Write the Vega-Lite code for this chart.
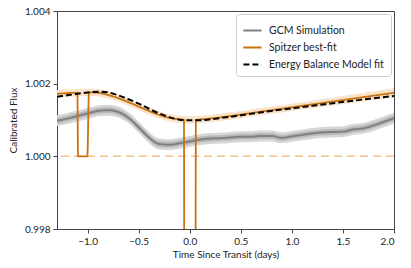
{
  "$schema": "https://vega.github.io/schema/vega-lite/v6.json",
  "width": 337,
  "height": 218,
  "autosize": {"type": "none"},
  "padding": {"left": 57, "top": 11, "right": 17, "bottom": 39},
  "background": "white",
  "config": {
    "font": "Lato",
    "view": {"stroke": "#444", "strokeWidth": 1},
    "axis": {"grid": false, "domainColor": "#444", "tickColor": "#444", "labelColor": "#222", "titleColor": "#222", "labelFontSize": 10, "titleFontSize": 10, "titleFontWeight": "normal", "tickSize": 4, "labelFont": "Lato", "titleFont": "Lato"},
    "legend": {"labelFont": "Lato"}
  },
  "datasets": {
    "gcm": [
      {"x": -1.3, "v": 1.00098, "a1": 1.0009, "b1": 1.00106, "a2": 1.00083, "b2": 1.00113},
      {"x": -1.2, "v": 1.00104, "a1": 1.00096, "b1": 1.00112, "a2": 1.00089, "b2": 1.00119},
      {"x": -1.1, "v": 1.00111, "a1": 1.00103, "b1": 1.00119, "a2": 1.00096, "b2": 1.00126},
      {"x": -1.0, "v": 1.00118, "a1": 1.0011, "b1": 1.00126, "a2": 1.00103, "b2": 1.00133},
      {"x": -0.9, "v": 1.00125, "a1": 1.00117, "b1": 1.00133, "a2": 1.0011, "b2": 1.0014},
      {"x": -0.8, "v": 1.00127, "a1": 1.00119, "b1": 1.00135, "a2": 1.00112, "b2": 1.00142},
      {"x": -0.7, "v": 1.00122, "a1": 1.00114, "b1": 1.0013, "a2": 1.00107, "b2": 1.00137},
      {"x": -0.6, "v": 1.00106, "a1": 1.00098, "b1": 1.00114, "a2": 1.00091, "b2": 1.00121},
      {"x": -0.5, "v": 1.0008, "a1": 1.00072, "b1": 1.00088, "a2": 1.00065, "b2": 1.00095},
      {"x": -0.4, "v": 1.00052, "a1": 1.00044, "b1": 1.0006, "a2": 1.00037, "b2": 1.00067},
      {"x": -0.3, "v": 1.00034, "a1": 1.00026, "b1": 1.00042, "a2": 1.00019, "b2": 1.00049},
      {"x": -0.2, "v": 1.00032, "a1": 1.00024, "b1": 1.0004, "a2": 1.00017, "b2": 1.00047},
      {"x": -0.1, "v": 1.00036, "a1": 1.00028, "b1": 1.00044, "a2": 1.00021, "b2": 1.00051},
      {"x": 0.0, "v": 1.00041, "a1": 1.00033, "b1": 1.00049, "a2": 1.00026, "b2": 1.00056},
      {"x": 0.1, "v": 1.00046, "a1": 1.00038, "b1": 1.00054, "a2": 1.00031, "b2": 1.00061},
      {"x": 0.2, "v": 1.00049, "a1": 1.00041, "b1": 1.00057, "a2": 1.00034, "b2": 1.00064},
      {"x": 0.3, "v": 1.0005, "a1": 1.00042, "b1": 1.00058, "a2": 1.00035, "b2": 1.00065},
      {"x": 0.4, "v": 1.00052, "a1": 1.00044, "b1": 1.0006, "a2": 1.00037, "b2": 1.00067},
      {"x": 0.5, "v": 1.00054, "a1": 1.00046, "b1": 1.00062, "a2": 1.00039, "b2": 1.00069},
      {"x": 0.6, "v": 1.00054, "a1": 1.00046, "b1": 1.00062, "a2": 1.00039, "b2": 1.00069},
      {"x": 0.7, "v": 1.00056, "a1": 1.00048, "b1": 1.00064, "a2": 1.00041, "b2": 1.00071},
      {"x": 0.8, "v": 1.00056, "a1": 1.00048, "b1": 1.00064, "a2": 1.00041, "b2": 1.00071},
      {"x": 0.9, "v": 1.00051, "a1": 1.00043, "b1": 1.00059, "a2": 1.00036, "b2": 1.00066},
      {"x": 1.0, "v": 1.00055, "a1": 1.00047, "b1": 1.00063, "a2": 1.0004, "b2": 1.0007},
      {"x": 1.1, "v": 1.00059, "a1": 1.00051, "b1": 1.00067, "a2": 1.00044, "b2": 1.00074},
      {"x": 1.2, "v": 1.00063, "a1": 1.00055, "b1": 1.00071, "a2": 1.00048, "b2": 1.00078},
      {"x": 1.3, "v": 1.00066, "a1": 1.00058, "b1": 1.00074, "a2": 1.00051, "b2": 1.00081},
      {"x": 1.4, "v": 1.00067, "a1": 1.00059, "b1": 1.00075, "a2": 1.00052, "b2": 1.00082},
      {"x": 1.5, "v": 1.00068, "a1": 1.0006, "b1": 1.00076, "a2": 1.00053, "b2": 1.00083},
      {"x": 1.6, "v": 1.00074, "a1": 1.00066, "b1": 1.00082, "a2": 1.00059, "b2": 1.00089},
      {"x": 1.7, "v": 1.00077, "a1": 1.00069, "b1": 1.00085, "a2": 1.00062, "b2": 1.00092},
      {"x": 1.8, "v": 1.00085, "a1": 1.00077, "b1": 1.00093, "a2": 1.0007, "b2": 1.001},
      {"x": 1.9, "v": 1.00095, "a1": 1.00087, "b1": 1.00103, "a2": 1.0008, "b2": 1.0011},
      {"x": 2.0, "v": 1.00105, "a1": 1.00097, "b1": 1.00113, "a2": 1.0009, "b2": 1.0012}
    ],
    "spitzerband": [
      {"x": -1.3, "lo": 1.00162, "hi": 1.00182},
      {"x": -1.2, "lo": 1.00164, "hi": 1.00184},
      {"x": -1.1, "lo": 1.00165, "hi": 1.00185},
      {"x": -1.0, "lo": 1.00166, "hi": 1.00186},
      {"x": -0.9, "lo": 1.00165, "hi": 1.00185},
      {"x": -0.8, "lo": 1.00159, "hi": 1.00179},
      {"x": -0.7, "lo": 1.0015, "hi": 1.0017},
      {"x": -0.6, "lo": 1.00139, "hi": 1.00159},
      {"x": -0.5, "lo": 1.00127, "hi": 1.00147},
      {"x": -0.4, "lo": 1.00115, "hi": 1.00135},
      {"x": -0.3, "lo": 1.00104, "hi": 1.00124},
      {"x": -0.2, "lo": 1.00096, "hi": 1.00116},
      {"x": -0.1, "lo": 1.00092, "hi": 1.00112},
      {"x": 0.0, "lo": 1.0009, "hi": 1.0011},
      {"x": 0.2, "lo": 1.00094, "hi": 1.00114},
      {"x": 0.4, "lo": 1.00101, "hi": 1.00121},
      {"x": 0.6, "lo": 1.00109, "hi": 1.00129},
      {"x": 0.8, "lo": 1.00117, "hi": 1.00137},
      {"x": 1.0, "lo": 1.00125, "hi": 1.00145},
      {"x": 1.2, "lo": 1.00132, "hi": 1.00154},
      {"x": 1.4, "lo": 1.0014, "hi": 1.00162},
      {"x": 1.6, "lo": 1.00147, "hi": 1.00171},
      {"x": 1.8, "lo": 1.00155, "hi": 1.00179},
      {"x": 2.0, "lo": 1.00162, "hi": 1.00188}
    ],
    "lines": [
      {"x": -1.3, "flux": 1.00098, "series": "GCM Simulation"},
      {"x": -1.2, "flux": 1.00104, "series": "GCM Simulation"},
      {"x": -1.1, "flux": 1.00111, "series": "GCM Simulation"},
      {"x": -1.0, "flux": 1.00118, "series": "GCM Simulation"},
      {"x": -0.9, "flux": 1.00125, "series": "GCM Simulation"},
      {"x": -0.8, "flux": 1.00127, "series": "GCM Simulation"},
      {"x": -0.7, "flux": 1.00122, "series": "GCM Simulation"},
      {"x": -0.6, "flux": 1.00106, "series": "GCM Simulation"},
      {"x": -0.5, "flux": 1.0008, "series": "GCM Simulation"},
      {"x": -0.4, "flux": 1.00052, "series": "GCM Simulation"},
      {"x": -0.3, "flux": 1.00034, "series": "GCM Simulation"},
      {"x": -0.2, "flux": 1.00032, "series": "GCM Simulation"},
      {"x": -0.1, "flux": 1.00036, "series": "GCM Simulation"},
      {"x": 0.0, "flux": 1.00041, "series": "GCM Simulation"},
      {"x": 0.1, "flux": 1.00046, "series": "GCM Simulation"},
      {"x": 0.2, "flux": 1.00049, "series": "GCM Simulation"},
      {"x": 0.3, "flux": 1.0005, "series": "GCM Simulation"},
      {"x": 0.4, "flux": 1.00052, "series": "GCM Simulation"},
      {"x": 0.5, "flux": 1.00054, "series": "GCM Simulation"},
      {"x": 0.6, "flux": 1.00054, "series": "GCM Simulation"},
      {"x": 0.7, "flux": 1.00056, "series": "GCM Simulation"},
      {"x": 0.8, "flux": 1.00056, "series": "GCM Simulation"},
      {"x": 0.9, "flux": 1.00051, "series": "GCM Simulation"},
      {"x": 1.0, "flux": 1.00055, "series": "GCM Simulation"},
      {"x": 1.1, "flux": 1.00059, "series": "GCM Simulation"},
      {"x": 1.2, "flux": 1.00063, "series": "GCM Simulation"},
      {"x": 1.3, "flux": 1.00066, "series": "GCM Simulation"},
      {"x": 1.4, "flux": 1.00067, "series": "GCM Simulation"},
      {"x": 1.5, "flux": 1.00068, "series": "GCM Simulation"},
      {"x": 1.6, "flux": 1.00074, "series": "GCM Simulation"},
      {"x": 1.7, "flux": 1.00077, "series": "GCM Simulation"},
      {"x": 1.8, "flux": 1.00085, "series": "GCM Simulation"},
      {"x": 1.9, "flux": 1.00095, "series": "GCM Simulation"},
      {"x": 2.0, "flux": 1.00105, "series": "GCM Simulation"},
      {"x": -1.3, "flux": 1.00172, "series": "Spitzer best-fit"},
      {"x": -1.2, "flux": 1.00174, "series": "Spitzer best-fit"},
      {"x": -1.1, "flux": 1.00175, "series": "Spitzer best-fit"},
      {"x": -1.094, "flux": 1.0, "series": "Spitzer best-fit"},
      {"x": -1.003, "flux": 1.0, "series": "Spitzer best-fit"},
      {"x": -0.987, "flux": 1.00176, "series": "Spitzer best-fit"},
      {"x": -0.9, "flux": 1.00175, "series": "Spitzer best-fit"},
      {"x": -0.8, "flux": 1.00169, "series": "Spitzer best-fit"},
      {"x": -0.7, "flux": 1.0016, "series": "Spitzer best-fit"},
      {"x": -0.6, "flux": 1.00149, "series": "Spitzer best-fit"},
      {"x": -0.5, "flux": 1.00137, "series": "Spitzer best-fit"},
      {"x": -0.4, "flux": 1.00125, "series": "Spitzer best-fit"},
      {"x": -0.3, "flux": 1.00114, "series": "Spitzer best-fit"},
      {"x": -0.2, "flux": 1.00106, "series": "Spitzer best-fit"},
      {"x": -0.1, "flux": 1.00102, "series": "Spitzer best-fit"},
      {"x": -0.057, "flux": 1.00101, "series": "Spitzer best-fit"},
      {"x": -0.05, "flux": 0.99, "series": "Spitzer best-fit"},
      {"x": 0.053, "flux": 0.99, "series": "Spitzer best-fit"},
      {"x": 0.06, "flux": 1.001, "series": "Spitzer best-fit"},
      {"x": 0.2, "flux": 1.00104, "series": "Spitzer best-fit"},
      {"x": 0.4, "flux": 1.00111, "series": "Spitzer best-fit"},
      {"x": 0.6, "flux": 1.00119, "series": "Spitzer best-fit"},
      {"x": 0.8, "flux": 1.00127, "series": "Spitzer best-fit"},
      {"x": 1.0, "flux": 1.00135, "series": "Spitzer best-fit"},
      {"x": 1.2, "flux": 1.00143, "series": "Spitzer best-fit"},
      {"x": 1.4, "flux": 1.00151, "series": "Spitzer best-fit"},
      {"x": 1.6, "flux": 1.00159, "series": "Spitzer best-fit"},
      {"x": 1.8, "flux": 1.00167, "series": "Spitzer best-fit"},
      {"x": 2.0, "flux": 1.00175, "series": "Spitzer best-fit"},
      {"x": -1.3, "flux": 1.00164, "series": "Energy Balance Model fit"},
      {"x": -1.2, "flux": 1.00168, "series": "Energy Balance Model fit"},
      {"x": -1.1, "flux": 1.00172, "series": "Energy Balance Model fit"},
      {"x": -1.0, "flux": 1.00176, "series": "Energy Balance Model fit"},
      {"x": -0.9, "flux": 1.00178, "series": "Energy Balance Model fit"},
      {"x": -0.8, "flux": 1.00176, "series": "Energy Balance Model fit"},
      {"x": -0.7, "flux": 1.00168, "series": "Energy Balance Model fit"},
      {"x": -0.6, "flux": 1.00157, "series": "Energy Balance Model fit"},
      {"x": -0.5, "flux": 1.00145, "series": "Energy Balance Model fit"},
      {"x": -0.4, "flux": 1.00131, "series": "Energy Balance Model fit"},
      {"x": -0.3, "flux": 1.00118, "series": "Energy Balance Model fit"},
      {"x": -0.2, "flux": 1.00108, "series": "Energy Balance Model fit"},
      {"x": -0.1, "flux": 1.00101, "series": "Energy Balance Model fit"},
      {"x": 0.0, "flux": 1.00099, "series": "Energy Balance Model fit"},
      {"x": 0.1, "flux": 1.00099, "series": "Energy Balance Model fit"},
      {"x": 0.2, "flux": 1.00102, "series": "Energy Balance Model fit"},
      {"x": 0.4, "flux": 1.00109, "series": "Energy Balance Model fit"},
      {"x": 0.6, "flux": 1.00117, "series": "Energy Balance Model fit"},
      {"x": 0.8, "flux": 1.00125, "series": "Energy Balance Model fit"},
      {"x": 1.0, "flux": 1.00132, "series": "Energy Balance Model fit"},
      {"x": 1.2, "flux": 1.00139, "series": "Energy Balance Model fit"},
      {"x": 1.4, "flux": 1.00146, "series": "Energy Balance Model fit"},
      {"x": 1.6, "flux": 1.00153, "series": "Energy Balance Model fit"},
      {"x": 1.8, "flux": 1.0016, "series": "Energy Balance Model fit"},
      {"x": 2.0, "flux": 1.00166, "series": "Energy Balance Model fit"}
    ],
    "ref": [{"y": 1.0}]
  },
  "layer": [
    {
      "data": {"name": "gcm"},
      "mark": {"type": "area", "color": "#d6d6d6", "interpolate": "monotone", "clip": true},
      "encoding": {
        "x": {"field": "x", "type": "quantitative", "scale": {"domain": [-1.3, 2.0], "nice": false, "zero": false},
              "axis": {"values": [-1.0, -0.5, 0.0, 0.5, 1.0, 1.5, 2.0], "format": ".1f", "title": "Time Since Transit (days)", "titlePadding": 3, "labelPadding": 3}},
        "y": {"field": "a2", "type": "quantitative", "scale": {"domain": [0.998, 1.004], "nice": false, "zero": false},
              "axis": {"values": [0.998, 0.999, 1.0, 1.001, 1.002, 1.003, 1.004], "format": ".3f", "title": "Calibrated Flux", "titlePadding": 6, "labelPadding": 3}},
        "y2": {"field": "b2"}
      }
    },
    {
      "data": {"name": "gcm"},
      "mark": {"type": "area", "color": "#b8b8b8", "interpolate": "monotone", "clip": true},
      "encoding": {
        "x": {"field": "x", "type": "quantitative"},
        "y": {"field": "a1", "type": "quantitative"},
        "y2": {"field": "b1"}
      }
    },
    {
      "data": {"name": "spitzerband"},
      "mark": {"type": "area", "color": "#fae3cb", "interpolate": "monotone", "clip": true},
      "encoding": {
        "x": {"field": "x", "type": "quantitative"},
        "y": {"field": "lo", "type": "quantitative"},
        "y2": {"field": "hi"}
      }
    },
    {
      "data": {"name": "ref"},
      "mark": {"type": "rule", "color": "#f4c08c", "strokeWidth": 1.5, "strokeDash": [8, 5]},
      "encoding": {"y": {"field": "y", "type": "quantitative"}}
    },
    {
      "data": {"name": "lines"},
      "transform": [{"filter": "datum.series === 'GCM Simulation'"}],
      "mark": {"type": "line", "interpolate": "monotone", "clip": true, "strokeWidth": 2},
      "encoding": {
        "x": {"field": "x", "type": "quantitative"},
        "y": {"field": "flux", "type": "quantitative"},
        "color": {"field": "series", "type": "nominal",
                  "scale": {"domain": ["GCM Simulation", "Spitzer best-fit", "Energy Balance Model fit"], "range": ["#808080", "#c8720f", "#000000"]},
                  "legend": {"title": null, "orient": "top-right", "offset": 3, "symbolType": "stroke", "symbolStrokeWidth": 2, "symbolSize": 330, "labelFontSize": 10.5, "labelColor": "#222", "fillColor": "white", "strokeColor": "#cccccc", "padding": 6, "cornerRadius": 3, "rowPadding": 1, "labelOffset": 6}},
        "strokeDash": {"field": "series", "type": "nominal",
                  "scale": {"domain": ["GCM Simulation", "Spitzer best-fit", "Energy Balance Model fit"], "range": [[1, 0], [1, 0], [6, 3]]},
                  "legend": {"title": null}}
      }
    },
    {
      "data": {"name": "lines"},
      "transform": [{"filter": "datum.series === 'Spitzer best-fit'"}],
      "mark": {"type": "line", "interpolate": "monotone", "clip": true, "strokeWidth": 1.8},
      "encoding": {
        "x": {"field": "x", "type": "quantitative"},
        "y": {"field": "flux", "type": "quantitative"},
        "color": {"field": "series", "type": "nominal"},
        "strokeDash": {"field": "series", "type": "nominal"}
      }
    },
    {
      "data": {"name": "lines"},
      "transform": [{"filter": "datum.series === 'Energy Balance Model fit'"}],
      "mark": {"type": "line", "interpolate": "monotone", "clip": true, "strokeWidth": 2},
      "encoding": {
        "x": {"field": "x", "type": "quantitative"},
        "y": {"field": "flux", "type": "quantitative"},
        "color": {"field": "series", "type": "nominal"},
        "strokeDash": {"field": "series", "type": "nominal"}
      }
    }
  ]
}
